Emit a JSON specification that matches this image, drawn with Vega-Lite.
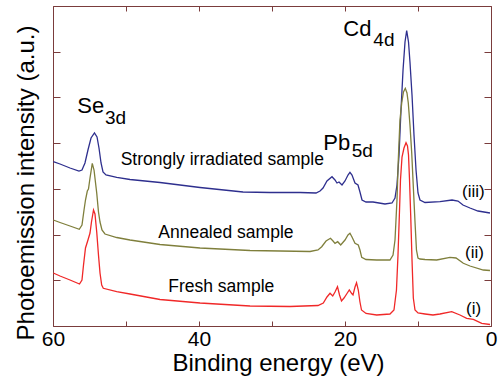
{
  "$schema": "https://vega.github.io/schema/vega-lite/v6.json",
  "width": 438,
  "height": 320,
  "autosize": {"type": "none"},
  "padding": {"left": 53, "top": 6, "right": 11, "bottom": 57},
  "background": "white",
  "config": {
    "view": {"stroke": "#7a3c3c", "strokeWidth": 1},
    "font": "Liberation Sans",
    "axis": {"grid": false, "domain": false, "tickColor": "#7a3c3c", "tickWidth": 1, "labelFont": "Liberation Sans", "titleFont": "Liberation Sans", "labelColor": "#000000", "titleColor": "#000000", "titleFontWeight": "normal"}
  },
  "datasets": {
    "curves": [
      {"E": 59.96, "I": 164.3, "s": "iii"}, {"E": 59.04, "I": 162, "s": "iii"}, {"E": 57.67, "I": 158, "s": "iii"}, {"E": 56.44, "I": 155, "s": "iii"}, {"E": 56.03, "I": 156, "s": "iii"}, {"E": 55.62, "I": 163, "s": "iii"}, {"E": 55.21, "I": 176, "s": "iii"}, {"E": 54.79, "I": 188, "s": "iii"}, {"E": 54.32, "I": 193, "s": "iii"}, {"E": 53.97, "I": 189, "s": "iii"}, {"E": 53.70, "I": 178, "s": "iii"}, {"E": 53.42, "I": 163, "s": "iii"}, {"E": 53.15, "I": 154, "s": "iii"}, {"E": 52.74, "I": 151, "s": "iii"}, {"E": 51.27, "I": 148.7, "s": "iii"}, {"E": 49.45, "I": 146.5, "s": "iii"}, {"E": 45.34, "I": 143.5, "s": "iii"}, {"E": 39.86, "I": 138.5, "s": "iii"}, {"E": 33.97, "I": 134, "s": "iii"}, {"E": 30.27, "I": 133.5, "s": "iii"}, {"E": 26.16, "I": 133.5, "s": "iii"}, {"E": 23.97, "I": 133, "s": "iii"}, {"E": 23.42, "I": 135, "s": "iii"}, {"E": 23.01, "I": 138, "s": "iii"}, {"E": 22.47, "I": 145, "s": "iii"}, {"E": 21.78, "I": 149.3, "s": "iii"}, {"E": 21.37, "I": 146, "s": "iii"}, {"E": 21.10, "I": 143, "s": "iii"}, {"E": 20.82, "I": 144, "s": "iii"}, {"E": 20.41, "I": 141, "s": "iii"}, {"E": 20.00, "I": 145, "s": "iii"}, {"E": 19.59, "I": 151, "s": "iii"}, {"E": 19.32, "I": 153.7, "s": "iii"}, {"E": 19.04, "I": 151, "s": "iii"}, {"E": 18.63, "I": 143, "s": "iii"}, {"E": 18.22, "I": 141, "s": "iii"}, {"E": 17.95, "I": 134, "s": "iii"}, {"E": 17.67, "I": 126, "s": "iii"}, {"E": 17.12, "I": 124, "s": "iii"}, {"E": 16.16, "I": 124, "s": "iii"}, {"E": 14.52, "I": 122, "s": "iii"}, {"E": 13.56, "I": 123, "s": "iii"}, {"E": 13.15, "I": 128, "s": "iii"}, {"E": 12.88, "I": 141, "s": "iii"}, {"E": 12.60, "I": 171, "s": "iii"}, {"E": 12.33, "I": 216, "s": "iii"}, {"E": 12.05, "I": 256, "s": "iii"}, {"E": 11.78, "I": 284, "s": "iii"}, {"E": 11.55, "I": 295.3, "s": "iii"}, {"E": 11.30, "I": 284, "s": "iii"}, {"E": 11.10, "I": 264, "s": "iii"}, {"E": 10.82, "I": 231, "s": "iii"}, {"E": 10.55, "I": 191, "s": "iii"}, {"E": 10.27, "I": 156, "s": "iii"}, {"E": 10.00, "I": 133, "s": "iii"}, {"E": 9.73, "I": 126, "s": "iii"}, {"E": 9.04, "I": 123.5, "s": "iii"}, {"E": 6.99, "I": 124.3, "s": "iii"}, {"E": 5.34, "I": 126, "s": "iii"}, {"E": 4.52, "I": 125, "s": "iii"}, {"E": 3.84, "I": 121, "s": "iii"}, {"E": 2.88, "I": 118, "s": "iii"}, {"E": 1.78, "I": 115, "s": "iii"}, {"E": 0.14, "I": 113, "s": "iii"},

      {"E": 59.96, "I": 106, "s": "ii"}, {"E": 59.04, "I": 103.5, "s": "ii"}, {"E": 57.67, "I": 100, "s": "ii"}, {"E": 56.40, "I": 96.7, "s": "ii"}, {"E": 56.03, "I": 101, "s": "ii"}, {"E": 55.75, "I": 116, "s": "ii"}, {"E": 55.55, "I": 126, "s": "ii"}, {"E": 55.30, "I": 135, "s": "ii"}, {"E": 55.14, "I": 137, "s": "ii"}, {"E": 54.93, "I": 148, "s": "ii"}, {"E": 54.62, "I": 162.7, "s": "ii"}, {"E": 54.38, "I": 156, "s": "ii"}, {"E": 54.01, "I": 133, "s": "ii"}, {"E": 53.77, "I": 114, "s": "ii"}, {"E": 53.56, "I": 104, "s": "ii"}, {"E": 53.29, "I": 96, "s": "ii"}, {"E": 52.88, "I": 92, "s": "ii"}, {"E": 51.27, "I": 88.5, "s": "ii"}, {"E": 49.45, "I": 86, "s": "ii"}, {"E": 45.34, "I": 81.5, "s": "ii"}, {"E": 39.86, "I": 78, "s": "ii"}, {"E": 33.01, "I": 75.5, "s": "ii"}, {"E": 28.90, "I": 75, "s": "ii"}, {"E": 24.79, "I": 74.5, "s": "ii"}, {"E": 23.70, "I": 76, "s": "ii"}, {"E": 23.19, "I": 79.3, "s": "ii"}, {"E": 22.60, "I": 85, "s": "ii"}, {"E": 21.99, "I": 87.7, "s": "ii"}, {"E": 21.64, "I": 85, "s": "ii"}, {"E": 21.37, "I": 82.7, "s": "ii"}, {"E": 21.00, "I": 84.3, "s": "ii"}, {"E": 20.59, "I": 81, "s": "ii"}, {"E": 20.00, "I": 86, "s": "ii"}, {"E": 19.59, "I": 91, "s": "ii"}, {"E": 19.32, "I": 92.7, "s": "ii"}, {"E": 19.04, "I": 89, "s": "ii"}, {"E": 18.63, "I": 82.7, "s": "ii"}, {"E": 18.18, "I": 81, "s": "ii"}, {"E": 17.95, "I": 76, "s": "ii"}, {"E": 17.71, "I": 68.7, "s": "ii"}, {"E": 17.12, "I": 66.5, "s": "ii"}, {"E": 15.66, "I": 66, "s": "ii"}, {"E": 13.84, "I": 66, "s": "ii"}, {"E": 13.42, "I": 71, "s": "ii"}, {"E": 13.15, "I": 86, "s": "ii"}, {"E": 12.88, "I": 126, "s": "ii"}, {"E": 12.70, "I": 166, "s": "ii"}, {"E": 12.47, "I": 206, "s": "ii"}, {"E": 12.23, "I": 223, "s": "ii"}, {"E": 11.99, "I": 234, "s": "ii"}, {"E": 11.74, "I": 237.7, "s": "ii"}, {"E": 11.51, "I": 233, "s": "ii"}, {"E": 11.33, "I": 223, "s": "ii"}, {"E": 11.10, "I": 201, "s": "ii"}, {"E": 10.86, "I": 173, "s": "ii"}, {"E": 10.62, "I": 136, "s": "ii"}, {"E": 10.41, "I": 104, "s": "ii"}, {"E": 10.21, "I": 76, "s": "ii"}, {"E": 10.00, "I": 68, "s": "ii"}, {"E": 9.73, "I": 67, "s": "ii"}, {"E": 9.04, "I": 66.5, "s": "ii"}, {"E": 7.44, "I": 66, "s": "ii"}, {"E": 5.62, "I": 68.7, "s": "ii"}, {"E": 4.79, "I": 68, "s": "ii"}, {"E": 3.79, "I": 62.7, "s": "ii"}, {"E": 2.88, "I": 60, "s": "ii"}, {"E": 1.05, "I": 56, "s": "ii"}, {"E": 0.14, "I": 55.5, "s": "ii"},

      {"E": 59.96, "I": 53, "s": "i"}, {"E": 59.04, "I": 50, "s": "i"}, {"E": 57.67, "I": 46, "s": "i"}, {"E": 56.37, "I": 42, "s": "i"}, {"E": 56.03, "I": 46, "s": "i"}, {"E": 55.82, "I": 61, "s": "i"}, {"E": 55.55, "I": 78, "s": "i"}, {"E": 55.21, "I": 86, "s": "i"}, {"E": 54.93, "I": 93, "s": "i"}, {"E": 54.73, "I": 104, "s": "i"}, {"E": 54.45, "I": 116, "s": "i"}, {"E": 54.25, "I": 112, "s": "i"}, {"E": 54.01, "I": 94, "s": "i"}, {"E": 53.77, "I": 71, "s": "i"}, {"E": 53.56, "I": 53, "s": "i"}, {"E": 53.33, "I": 41, "s": "i"}, {"E": 53.11, "I": 37.7, "s": "i"}, {"E": 51.27, "I": 34.3, "s": "i"}, {"E": 49.45, "I": 32, "s": "i"}, {"E": 45.34, "I": 26.5, "s": "i"}, {"E": 39.86, "I": 23, "s": "i"}, {"E": 33.01, "I": 20, "s": "i"}, {"E": 27.53, "I": 19.5, "s": "i"}, {"E": 23.70, "I": 20.5, "s": "i"}, {"E": 22.97, "I": 23, "s": "i"}, {"E": 22.47, "I": 29, "s": "i"}, {"E": 22.05, "I": 32.7, "s": "i"}, {"E": 21.68, "I": 30, "s": "i"}, {"E": 21.37, "I": 34, "s": "i"}, {"E": 21.03, "I": 39.3, "s": "i"}, {"E": 20.75, "I": 31, "s": "i"}, {"E": 20.48, "I": 25, "s": "i"}, {"E": 20.14, "I": 28, "s": "i"}, {"E": 19.73, "I": 32.5, "s": "i"}, {"E": 19.41, "I": 36, "s": "i"}, {"E": 19.08, "I": 32.5, "s": "i"}, {"E": 18.90, "I": 31, "s": "i"}, {"E": 18.63, "I": 39, "s": "i"}, {"E": 18.42, "I": 43.3, "s": "i"}, {"E": 18.18, "I": 36, "s": "i"}, {"E": 17.95, "I": 24, "s": "i"}, {"E": 17.74, "I": 16, "s": "i"}, {"E": 17.12, "I": 12.5, "s": "i"}, {"E": 15.66, "I": 11, "s": "i"}, {"E": 13.84, "I": 12, "s": "i"}, {"E": 13.29, "I": 16, "s": "i"}, {"E": 12.95, "I": 36, "s": "i"}, {"E": 12.74, "I": 71, "s": "i"}, {"E": 12.53, "I": 116, "s": "i"}, {"E": 12.40, "I": 146, "s": "i"}, {"E": 12.19, "I": 169, "s": "i"}, {"E": 11.92, "I": 178, "s": "i"}, {"E": 11.64, "I": 183.3, "s": "i"}, {"E": 11.44, "I": 180, "s": "i"}, {"E": 11.30, "I": 171, "s": "i"}, {"E": 11.16, "I": 146, "s": "i"}, {"E": 11.00, "I": 111, "s": "i"}, {"E": 10.82, "I": 66, "s": "i"}, {"E": 10.64, "I": 28, "s": "i"}, {"E": 10.41, "I": 16, "s": "i"}, {"E": 10.00, "I": 13, "s": "i"}, {"E": 9.04, "I": 12, "s": "i"}, {"E": 7.95, "I": 11, "s": "i"}, {"E": 7.00, "I": 12, "s": "i"}, {"E": 5.38, "I": 14.3, "s": "i"}, {"E": 4.25, "I": 11, "s": "i"}, {"E": 3.33, "I": 7.7, "s": "i"}, {"E": 2.42, "I": 6.7, "s": "i"}, {"E": 1.27, "I": 2.7, "s": "i"}, {"E": 0.14, "I": 1.5, "s": "i"}
    ],
    "elements": [
      {"E": 56.67, "I": 212.7, "t": "Se"},
      {"E": 20.23, "I": 290.3, "t": "Cd"},
      {"E": 22.97, "I": 176, "t": "Pb"}
    ],
    "subs": [
      {"E": 52.88, "I": 201.7, "t": "3d"},
      {"E": 16.12, "I": 280.3, "t": "4d"},
      {"E": 19.08, "I": 169.3, "t": "5d"}
    ],
    "samples": [
      {"E": 50.73, "I": 161, "t": "Strongly irradiated sample"},
      {"E": 45.58, "I": 87.7, "t": "Annealed sample"},
      {"E": 44.21, "I": 34.3, "t": "Fresh sample"}
    ],
    "numerals": [
      {"E": 3.97, "I": 134.3, "t": "(iii)"},
      {"E": 3.56, "I": 73.3, "t": "(ii)"},
      {"E": 3.42, "I": 17, "t": "(i)"}
    ]
  },
  "layer": [
    {
      "data": {"name": "curves"},
      "mark": {"type": "line", "strokeWidth": 1.3, "interpolate": "linear"},
      "encoding": {
        "x": {"field": "E", "type": "quantitative", "scale": {"domain": [0, 60], "reverse": true, "nice": false, "zero": false},
          "axis": {"orient": "bottom", "values": [0, 10, 20, 30, 40, 50, 60], "labelExpr": "datum.value % 20 === 0 ? datum.label : ''", "labelOverlap": false, "labelFlush": false, "labelFontSize": 21, "tickSize": -5, "labelPadding": 7, "title": "Binding energy (eV)", "titleFontSize": 24, "titleX": 225, "titleY": 44, "titleBaseline": "alphabetic", "titleAlign": "center", "titleAnchor": null}},
        "y": {"field": "I", "type": "quantitative", "scale": {"domain": [0, 320], "nice": false, "zero": false},
          "axis": {"orient": "left", "values": [0, 45.71, 91.43, 137.14, 182.86, 228.57, 274.29, 320], "labels": false, "tickSize": -7, "title": "Photoemission intensity (a.u.)", "titleFontSize": 24, "titleAngle": -90, "titleX": -20, "titleY": 176.5, "titleBaseline": "alphabetic", "titleAlign": "center", "titleAnchor": null}},
        "color": {"field": "s", "type": "nominal", "scale": {"domain": ["iii", "ii", "i"], "range": ["#2e2f8e", "#7f7f3c", "#f02828"]}, "legend": null}
      }
    },
    {
      "data": {"name": "samples"},
      "mark": {"type": "text", "fontSize": 17.5, "align": "left", "baseline": "alphabetic", "color": "#000000", "font": "Liberation Sans"},
      "encoding": {
        "x": {"field": "E", "type": "quantitative", "scale": {"domain": [0, 60], "reverse": true, "nice": false, "zero": false},
          "axis": {"orient": "top", "values": [0, 10, 20, 30, 40, 50, 60], "labels": false, "tickSize": -5, "title": null}},
        "y": {"field": "I", "type": "quantitative", "scale": {"domain": [0, 320], "nice": false, "zero": false},
          "axis": {"orient": "right", "values": [0, 45.71, 91.43, 137.14, 182.86, 228.57, 274.29, 320], "labels": false, "tickSize": -7, "title": null}},
        "text": {"field": "t", "type": "nominal"}
      }
    },
    {
      "data": {"name": "elements"},
      "mark": {"type": "text", "fontSize": 22, "align": "left", "baseline": "alphabetic", "color": "#000000", "font": "Liberation Sans"},
      "encoding": {
        "x": {"field": "E", "type": "quantitative", "axis": null},
        "y": {"field": "I", "type": "quantitative", "axis": null},
        "text": {"field": "t", "type": "nominal"}
      }
    },
    {
      "data": {"name": "subs"},
      "mark": {"type": "text", "fontSize": 19, "align": "left", "baseline": "alphabetic", "color": "#000000", "font": "Liberation Sans"},
      "encoding": {
        "x": {"field": "E", "type": "quantitative", "axis": null},
        "y": {"field": "I", "type": "quantitative", "axis": null},
        "text": {"field": "t", "type": "nominal"}
      }
    },
    {
      "data": {"name": "numerals"},
      "mark": {"type": "text", "fontSize": 17, "align": "left", "baseline": "middle", "color": "#000000", "font": "Liberation Sans"},
      "encoding": {
        "x": {"field": "E", "type": "quantitative", "axis": null},
        "y": {"field": "I", "type": "quantitative", "axis": null},
        "text": {"field": "t", "type": "nominal"}
      }
    }
  ],
  "resolve": {"axis": {"x": "independent", "y": "independent"}}
}
